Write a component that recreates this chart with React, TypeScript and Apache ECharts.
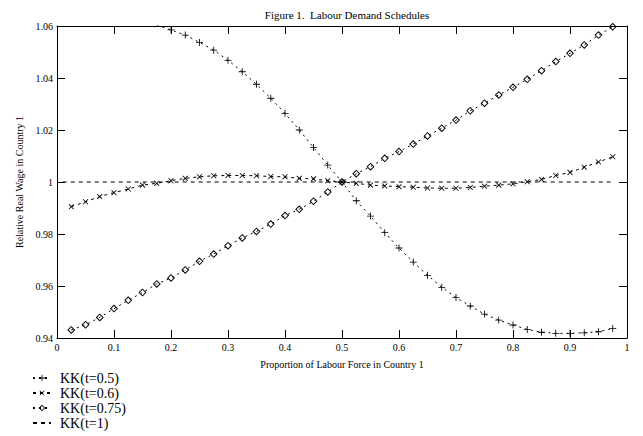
import React, { useEffect, useRef } from "react";
import * as echarts from "echarts";

const xs = [0.025, 0.05, 0.075, 0.1, 0.125, 0.15, 0.175, 0.2, 0.225, 0.25, 0.275, 0.3, 0.325, 0.35, 0.375, 0.4, 0.425, 0.45, 0.475, 0.5, 0.525, 0.55, 0.575, 0.6, 0.625, 0.65, 0.675, 0.7, 0.725, 0.75, 0.775, 0.8, 0.825, 0.85, 0.875, 0.9, 0.925, 0.95, 0.975];

const kkT05 = [null, null, null, null, null, null, 1.0603, 1.0585, 1.0565, 1.0537, 1.0507, 1.0468, 1.0424, 1.0376, 1.0322, 1.0264, 1.02, 1.0133, 1.0065, 1.0, 0.9928, 0.9869, 0.9805, 0.9746, 0.9692, 0.9641, 0.9595, 0.9556, 0.9523, 0.9492, 0.9469, 0.945, 0.9433, 0.9422, 0.9418, 0.9418, 0.942, 0.9424, 0.9437];

const kkT06 = [0.9905, 0.9924, 0.9944, 0.9959, 0.9973, 0.9988, 0.9995, 1.0005, 1.0014, 1.002, 1.0024, 1.0025, 1.0025, 1.0024, 1.0021, 1.002, 1.0014, 1.0012, 1.0005, 1.0, 0.9995, 0.9988, 0.9985, 0.9982, 0.998, 0.9977, 0.9976, 0.9976, 0.9979, 0.9984, 0.9988, 0.9993, 1.0001, 1.001, 1.0025, 1.0037, 1.0057, 1.0077, 1.0097];

const kkT075 = [0.9431, 0.9451, 0.9479, 0.9513, 0.9545, 0.9575, 0.9608, 0.9631, 0.9662, 0.9695, 0.9723, 0.9755, 0.9785, 0.981, 0.9838, 0.9871, 0.9895, 0.9926, 0.9962, 1.0, 1.0032, 1.0059, 1.0091, 1.0117, 1.0146, 1.0177, 1.0207, 1.0238, 1.0274, 1.0303, 1.0335, 1.0364, 1.0395, 1.0428, 1.0463, 1.0495, 1.0527, 1.0565, 1.0597];

const kkT1X = [0.01, 0.975];
const kkT1 = [1.0, 1.0];

const seriesNames = ["KK(t=0.5)", "KK(t=0.6)", "KK(t=0.75)", "KK(t=1)"];

const FONT = '"Liberation Serif", "Times New Roman", serif';
const PLUS = "path://M4.4,0H5.6V4.4H10V5.6H5.6V10H4.4V5.6H0V4.4H4.4Z";
const DIAMOND = "path://M5,0L10,5L5,10L0,5Z M5,1.7L1.7,5L5,8.3L8.3,5Z";

const pair = (x: number[], y: (number | null)[]) => x.map((v, i) => [v, y[i]]);

export default function App() {
  const ref = useRef<HTMLDivElement>(null);
  useEffect(() => {
    if (!ref.current) return;
    const chart = echarts.init(ref.current, undefined, { renderer: "svg" });
    const axisCommon = {
      type: "value" as const,
      axisLine: { show: true, onZero: false, lineStyle: { color: "#000", width: 1 } },
      axisTick: { show: true, inside: true, length: 8, lineStyle: { color: "#000" } },
      splitLine: { show: false },
    };
    chart.setOption({
      animation: false,
      backgroundColor: "#fff",
      title: {
        text: "Figure 1.  Labour Demand Schedules",
        left: 342,
        textAlign: "center",
        top: 4,
        textStyle: { fontFamily: FONT, fontSize: 11, fontWeight: "normal", color: "#000" },
      },
      grid: { left: 57, right: 16, top: 26, bottom: 98, containLabel: false },
      xAxis: [
        {
          ...axisCommon,
          position: "bottom",
          min: 0,
          max: 1,
          interval: 0.1,
          name: "Proportion of Labour Force in Country 1",
          nameLocation: "middle",
          nameGap: 21,
          nameTextStyle: { fontFamily: FONT, fontSize: 10, color: "#000" },
          axisLabel: {
            fontFamily: FONT,
            fontSize: 10,
            color: "#000",
            margin: 4,
            formatter: (v: number) => String(Number(v.toFixed(1))),
          },
        },
        {
          ...axisCommon,
          position: "top",
          min: 0,
          max: 1,
          interval: 0.1,
          axisLabel: { show: false },
        },
      ],
      yAxis: [
        {
          ...axisCommon,
          position: "left",
          min: 0.94,
          max: 1.06,
          interval: 0.02,
          name: "Relative Real Wage in Country 1",
          nameLocation: "middle",
          nameGap: 32,
          nameTextStyle: { fontFamily: FONT, fontSize: 10, color: "#000" },
          axisLabel: {
            fontFamily: FONT,
            fontSize: 10,
            color: "#000",
            margin: 4,
            formatter: (v: number) => String(Number(v.toFixed(2))),
          },
        },
        {
          ...axisCommon,
          position: "right",
          min: 0.94,
          max: 1.06,
          interval: 0.02,
          axisLabel: { show: false },
        },
      ],
      legend: {
        orient: "vertical",
        left: 32,
        top: 371,
        bottom: 0,
        padding: 0,
        itemWidth: 18,
        itemHeight: 8,
        itemGap: 1,
        data: seriesNames,
        textStyle: { fontFamily: FONT, fontSize: 14, lineHeight: 14, color: "#000", padding: [0, 0, 0, 4] },
      },
      series: [
        {
          name: seriesNames[0],
          type: "line",
          data: pair(xs, kkT05),
          clip: true,
          symbol: PLUS,
          symbolSize: 7,
          showAllSymbol: true,
          itemStyle: { color: "#000" },
          lineStyle: { color: "#000", width: 1, type: [2, 4] },
        },
        {
          name: seriesNames[1],
          type: "line",
          data: pair(xs, kkT06),
          clip: true,
          symbol: PLUS,
          symbolRotate: 45,
          symbolSize: 7,
          showAllSymbol: true,
          itemStyle: { color: "#000" },
          lineStyle: { color: "#000", width: 1, type: [3, 4] },
        },
        {
          name: seriesNames[2],
          type: "line",
          data: pair(xs, kkT075),
          clip: true,
          symbol: DIAMOND,
          symbolSize: 8,
          showAllSymbol: true,
          itemStyle: { color: "#000" },
          lineStyle: { color: "#000", width: 1, type: [2, 4] },
        },
        {
          name: seriesNames[3],
          type: "line",
          data: pair(kkT1X, kkT1),
          clip: true,
          symbol: "circle",
          showSymbol: false,
          itemStyle: { color: "#000", opacity: 0 },
          lineStyle: { color: "#000", width: 1, type: [4, 4] },
        },
      ],
    });
    return () => chart.dispose();
  }, []);
  return <div ref={ref} style={{ width: 643, height: 436, position: "absolute", left: 0, top: 0 }} />;
}
